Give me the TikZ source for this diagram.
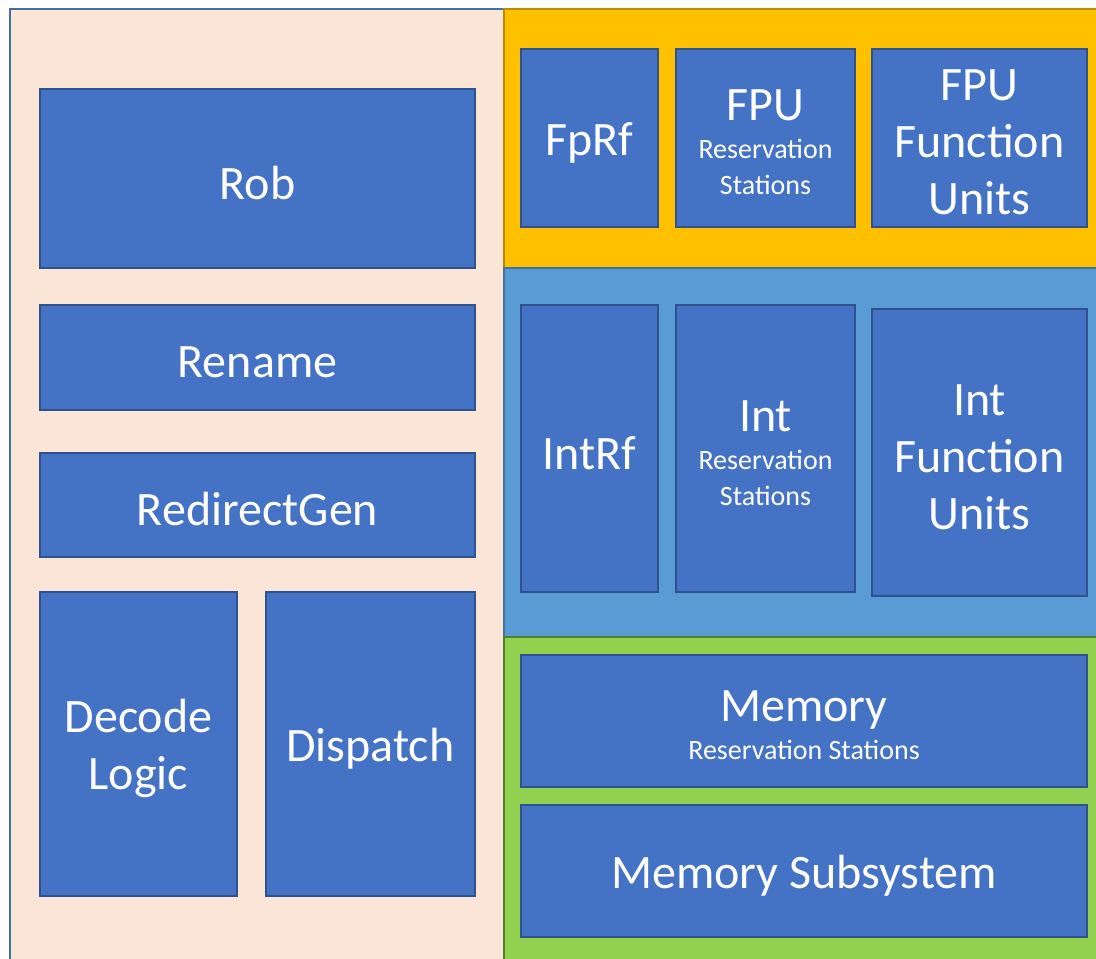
\documentclass[tikz,border=0pt]{standalone}
\usepackage{fontspec}
\setmainfont{Carlito}
\definecolor{blkfill}{HTML}{4472C4}
\definecolor{blkdraw}{HTML}{2F528F}
\definecolor{peach}{HTML}{FBE5D6}
\definecolor{steel}{HTML}{41719C}
\definecolor{gold}{HTML}{FFC000}
\definecolor{golddark}{HTML}{BC8C00}
\definecolor{skyb}{HTML}{5B9BD5}
\definecolor{grn}{HTML}{92D050}
\definecolor{grndark}{HTML}{507E32}
\newcommand{\smalltxt}{\fontsize{28}{35}\selectfont}
\begin{document}
\begin{tikzpicture}[x=1pt,y=-1pt,
  blk/.style={draw=blkdraw, fill=blkfill, line width=2pt, inner sep=0pt},
  txt/.style={text=white, align=center, inner sep=0pt, yshift=-4.5pt,
    font=\fontsize{48}{57}\selectfont},
  panel/.style={line width=2pt},
]
\useasboundingbox (0,0) rectangle (1096,959);
\clip (0,0) rectangle (1096,959);
% panels
\draw[panel, fill=peach, draw=steel] (10,9) rectangle (504,975);
\draw[panel, fill=gold, draw=golddark] (504,9) rectangle (1115,268);
\draw[panel, fill=skyb, draw=steel] (504,268) rectangle (1115,637);
\draw[panel, fill=grn, draw=grndark] (504,637) rectangle (1115,975);
% blocks
\node[blk, minimum width=435, minimum height=179] (rob) at (257.5,178.5) {};
\node[blk, minimum width=435, minimum height=105] (rename) at (257.5,357.5) {};
\node[blk, minimum width=435, minimum height=104] (redir) at (257.5,505) {};
\node[blk, minimum width=197, minimum height=304] (decode) at (138.5,744) {};
\node[blk, minimum width=209, minimum height=304] (dispatch) at (370.5,744) {};
\node[blk, minimum width=137, minimum height=178] (fprf) at (589.5,138) {};
\node[blk, minimum width=179, minimum height=178] (fpurs) at (765.5,138) {};
\node[blk, minimum width=215, minimum height=178] (fpufu) at (979.5,138) {};
\node[blk, minimum width=137, minimum height=287] (intrf) at (589.5,448.5) {};
\node[blk, minimum width=179, minimum height=287] (intrs) at (765.5,448.5) {};
\node[blk, minimum width=215, minimum height=287] (intfu) at (979.5,452.5) {};
\node[blk, minimum width=566, minimum height=132] (memrs) at (804,721) {};
\node[blk, minimum width=566, minimum height=132] (memsub) at (804,871) {};
% texts
\node[txt] (robt) at (rob.center) {Rob};
\node[txt] (renamet) at (rename.center) {Rename};
\node[txt] (redirt) at (redir.center) {RedirectGen};
\node[txt] (decodet) at (decode.center) {Decode\\Logic};
\node[txt] (dispatcht) at (dispatch.center) {Dispatch};
\node[txt] (fprft) at (fprf.center) {FpRf};
\node[txt] (fpurst) at (fpurs.center) {FPU\\[-19pt]\smalltxt Reservation\\[-21pt]\smalltxt Stations};
\node[txt] (fpufut) at (fpufu.center) {FPU\\Function\\Units};
\node[txt] (intrft) at (intrf.center) {IntRf};
\node[txt] (intrst) at (intrs.center) {Int\\[-19pt]\smalltxt Reservation\\[-21pt]\smalltxt Stations};
\node[txt] (intfut) at (intfu.center) {Int\\Function\\Units};
\node[txt] (memrst) at (memrs.center) {Memory\\[-19pt]\smalltxt Reservation Stations};
\node[txt] (memsubt) at (memsub.center) {Memory Subsystem};
\end{tikzpicture}
\end{document}
